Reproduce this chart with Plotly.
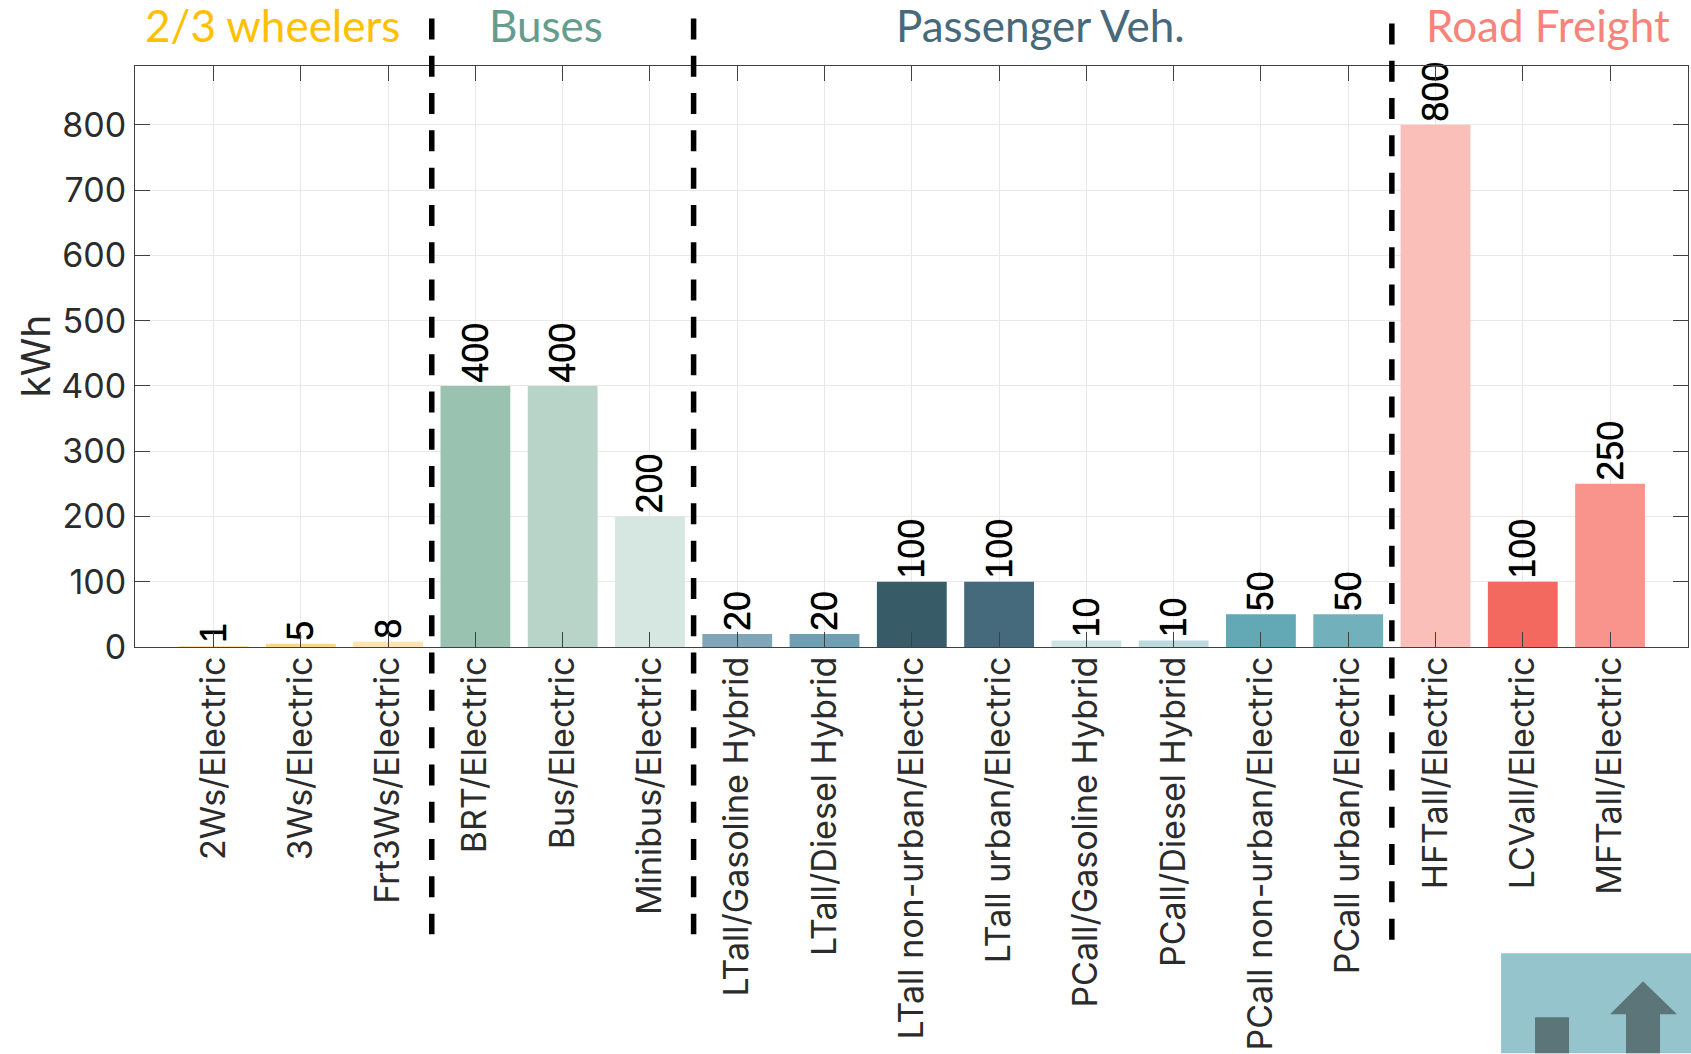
import plotly.graph_objects as go

categories = ["2Ws/Electric", "3Ws/Electric", "Frt3Ws/Electric", "BRT/Electric", "Bus/Electric",
              "Minibus/Electric", "LTall/Gasoline Hybrid", "LTall/Diesel Hybrid",
              "LTall non-urban/Electric", "LTall urban/Electric", "PCall/Gasoline Hybrid",
              "PCall/Diesel Hybrid", "PCall non-urban/Electric", "PCall urban/Electric",
              "HFTall/Electric", "LCVall/Electric", "MFTall/Electric"]
values = [1, 5, 8, 400, 400, 200, 20, 20, 100, 100, 10, 10, 50, 50, 800, 100, 250]
bar_colors = ["#ffe39c", "#fdd58e", "#fde3b0", "#99c2b1", "#b8d4c9", "#d6e6e0",
              "#7fa6b9", "#6f9fb3", "#385b68", "#446a7c", "#cde3e5", "#bbdbdf",
              "#62a8b5", "#72b0bb", "#f9bfb8", "#f4695f", "#f9948c"]
y_ticks = [0, 100, 200, 300, 400, 500, 600, 700, 800]
group_names = ["2/3 wheelers", "Buses", "Passenger Veh.", "Road Freight"]
group_colors = ["#ffc000", "#649d8c", "#46697c", "#f8837a"]
group_centers_px = [272, 546, 1040, 1548]
dividers = [2.5, 5.5, 13.5]
divider_top_px = [18, 18, 23]
divider_bottom_px = [935, 935, 941]

W, H = 1691, 1054
L, R, T, B = 134.5, 1688.0, 65.6, 647.3


def px(x):
    return (x - L) / (R - L)


def py(y):
    return (B - y) / (B - T)


TICK_FONT = "Inter, Noto Sans, sans-serif"
fig = go.Figure(go.Bar(
    x=categories, y=values, width=0.8,
    marker=dict(color=bar_colors, line=dict(width=0)),
    text=[str(v) for v in values], textposition="outside", textangle=-90,
    textfont=dict(family="Liberation Sans, Arial, sans-serif", size=36, color="#000000",
                  shadow="0 0 0.8px #000000"),
    cliponaxis=False, constraintext="none",
))

shapes = []
for d, t, b in zip(dividers, divider_top_px, divider_bottom_px):
    shapes.append(dict(type="line", xref="x", yref="paper", x0=d, x1=d, y0=py(t), y1=py(b),
                       line=dict(color="#000000", width=5.5, dash="21px,16.3px"), layer="above"))
shapes.append(dict(type="rect", xref="paper", yref="paper", x0=px(1501), x1=px(1691), y0=py(954), y1=py(1054),
                   fillcolor="#95c4cc", line=dict(width=0), layer="above"))
shapes.append(dict(type="rect", xref="paper", yref="paper", x0=px(1535), x1=px(1569), y0=py(1018), y1=py(1054),
                   fillcolor="#5b7579", line=dict(width=0), layer="above"))
arrow = [(1643, 982), (1677, 1015), (1660, 1015), (1660, 1054), (1626, 1054), (1626, 1015), (1610, 1015)]
path = "M " + " L ".join(f"{px(a):.5f} {py(b):.5f}" for a, b in arrow) + " Z"
shapes.append(dict(type="path", xref="paper", yref="paper", path=path,
                   fillcolor="#5b7579", line=dict(width=0), layer="above"))

annotations = [dict(text=n, x=px(c), y=py(25), xref="paper", yref="paper", showarrow=False,
                    xanchor="center", yanchor="middle", font=dict(family="Lato, Open Sans, sans-serif", size=44, color=col))
               for n, c, col in zip(group_names, group_centers_px, group_colors)]
annotations.append(dict(text="kWh", x=px(35), y=py(356), xref="paper", yref="paper", showarrow=False,
                        textangle=-90, xanchor="center", yanchor="middle",
                        font=dict(family=TICK_FONT, size=39, color="#2b2b2b")))

fig.update_layout(
    width=W, height=H,
    margin=dict(l=L, r=W - R, t=T, b=H - B, pad=0, autoexpand=False),
    paper_bgcolor="#ffffff", plot_bgcolor="#ffffff",
    showlegend=False, shapes=shapes, annotations=annotations,
    xaxis=dict(type="category", categoryorder="array", categoryarray=categories,
               range=[-0.9, 16.893], tickangle=-90, ticks="inside", ticklen=15, tickwidth=1,
               tickcolor="#404040", showline=True, linecolor="#404040", linewidth=1, mirror="ticks",
               showgrid=True, gridcolor="#e8e8e8", gridwidth=1, zeroline=False, automargin=False,
               ticklabelstandoff=-5, tickfont=dict(family=TICK_FONT, size=34, color="#2b2b2b")),
    yaxis=dict(range=[0, 890], tickmode="array", tickvals=y_ticks, ticks="inside", ticklen=15, tickwidth=1,
               tickcolor="#404040", showline=True, linecolor="#404040", linewidth=1, mirror="ticks",
               showgrid=True, gridcolor="#e8e8e8", gridwidth=1, zeroline=False, automargin=False,
               ticklabelstandoff=1, tickfont=dict(family=TICK_FONT, size=34, color="#2b2b2b")),
)

fig.write_html("out.html", config=dict(displayModeBar=False),
               post_script="document.body.style.margin='0';document.body.style.overflow='hidden';")
